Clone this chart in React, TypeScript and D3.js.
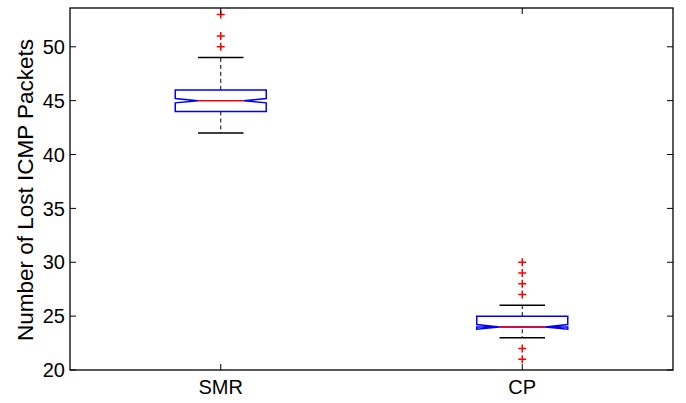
import React, { useEffect, useRef } from "react";
import * as d3 from "d3";

// groups and their box statistics
const groups = ["SMR", "CP"];
const q1 = [44, 24];
const medians = [45, 24];
const q3 = [46, 25];
const whiskerLow = [42, 23];
const whiskerHigh = [49, 26];
const notchHalf = [0.2, 0.22];
const outliers = [
  [50, 51, 53],
  [21, 22, 27, 28, 29, 30],
];
const yTicks = [20, 25, 30, 35, 40, 45, 50];

function App() {
  const svgRef = useRef<SVGSVGElement>(null);
  const width = 686;
  const height = 403;

  useEffect(() => {
    const svg = d3.select(svgRef.current);
    svg.selectAll("*").remove();

    const margin = { top: 8, right: 13, bottom: 33, left: 70 };
    const font = "'Liberation Sans', Arial, sans-serif";

    const x = d3
      .scaleLinear()
      .domain([0.5, 2.5])
      .range([margin.left, width - margin.right]);

    const y = d3
      .scaleLinear()
      .domain([20, 53.6])
      .range([height - margin.bottom, margin.top]);

    const boxW = 91;
    const inset = boxW / 4;
    const capW = boxW / 2;

    const g = svg.append("g");

    groups.forEach((name, i) => {
      const cx = x(i + 1);
      const L = cx - boxW / 2;
      const R = cx + boxW / 2;
      const nLo = y(medians[i] - notchHalf[i]);
      const nHi = y(medians[i] + notchHalf[i]);
      const my = y(medians[i]);

      // whiskers
      const dash = "4,3";
      g.append("line")
        .attr("x1", cx).attr("x2", cx)
        .attr("y1", y(q3[i])).attr("y2", y(whiskerHigh[i]))
        .attr("stroke", "#000").attr("stroke-dasharray", dash);
      g.append("line")
        .attr("x1", cx).attr("x2", cx)
        .attr("y1", Math.max(y(q1[i]), nLo)).attr("y2", y(whiskerLow[i]))
        .attr("stroke", "#000").attr("stroke-dasharray", dash);
      [whiskerHigh[i], whiskerLow[i]].forEach((v) => {
        g.append("line")
          .attr("x1", cx - capW / 2).attr("x2", cx + capW / 2)
          .attr("y1", y(v)).attr("y2", y(v))
          .attr("stroke", "#000").attr("stroke-width", 1.5);
      });

      // notched box
      const pts: [number, number][] = [
        [L, y(q1[i])],
        [L, nLo],
        [L + inset, my],
        [L, nHi],
        [L, y(q3[i])],
        [R, y(q3[i])],
        [R, nHi],
        [R - inset, my],
        [R, nLo],
        [R, y(q1[i])],
      ];
      g.append("path")
        .attr("d", d3.line()(pts) + "Z")
        .attr("fill", "#fff")
        .attr("stroke", "#0000ff")
        .attr("stroke-width", 1.5);

      // median
      g.append("line")
        .attr("x1", L + inset).attr("x2", R - inset)
        .attr("y1", my).attr("y2", my)
        .attr("stroke", "#ff0000").attr("stroke-width", 1.5);

      // outliers
      outliers[i].forEach((v) => {
        const oy = y(v);
        g.append("path")
          .attr("d", `M${cx - 4},${oy}H${cx + 4}M${cx},${oy - 4}V${oy + 4}`)
          .attr("stroke", "#ff0000")
          .attr("stroke-width", 1.5);
      });
    });

    // frame
    svg.append("rect")
      .attr("x", margin.left).attr("y", margin.top)
      .attr("width", width - margin.left - margin.right)
      .attr("height", height - margin.top - margin.bottom)
      .attr("fill", "none").attr("stroke", "#000").attr("stroke-width", 1.3);

    const tickLen = 6;
    // y ticks both sides
    yTicks.forEach((t) => {
      const ty = y(t);
      svg.append("line")
        .attr("x1", margin.left).attr("x2", margin.left + tickLen)
        .attr("y1", ty).attr("y2", ty).attr("stroke", "#000");
      svg.append("line")
        .attr("x1", width - margin.right).attr("x2", width - margin.right - tickLen)
        .attr("y1", ty).attr("y2", ty).attr("stroke", "#000");
      svg.append("text")
        .attr("x", margin.left - 5).attr("y", ty)
        .attr("dy", "0.36em")
        .attr("text-anchor", "end")
        .style("font-family", font).style("font-size", "20px")
        .text(t);
    });

    // x ticks top and bottom
    groups.forEach((name, i) => {
      const tx = x(i + 1);
      svg.append("line")
        .attr("x1", tx).attr("x2", tx)
        .attr("y1", height - margin.bottom).attr("y2", height - margin.bottom - tickLen)
        .attr("stroke", "#000");
      svg.append("line")
        .attr("x1", tx).attr("x2", tx)
        .attr("y1", margin.top).attr("y2", margin.top + tickLen)
        .attr("stroke", "#000");
      svg.append("text")
        .attr("x", tx).attr("y", height - margin.bottom + 24)
        .attr("text-anchor", "middle")
        .style("font-family", font).style("font-size", "20px")
        .text(name);
    });

    // y axis title
    svg.append("text")
      .attr("transform", `translate(33,${(margin.top + height - margin.bottom) / 2 + 1})rotate(-90)`)
      .attr("text-anchor", "middle")
      .style("font-family", font).style("font-size", "22.5px")
      .text("Number of Lost ICMP Packets");
  }, []);

  return (
    <svg
      ref={svgRef}
      width={width}
      height={height}
      style={{ position: "absolute", left: 0, top: 0, background: "#fff" }}
    ></svg>
  );
}

export default App;
